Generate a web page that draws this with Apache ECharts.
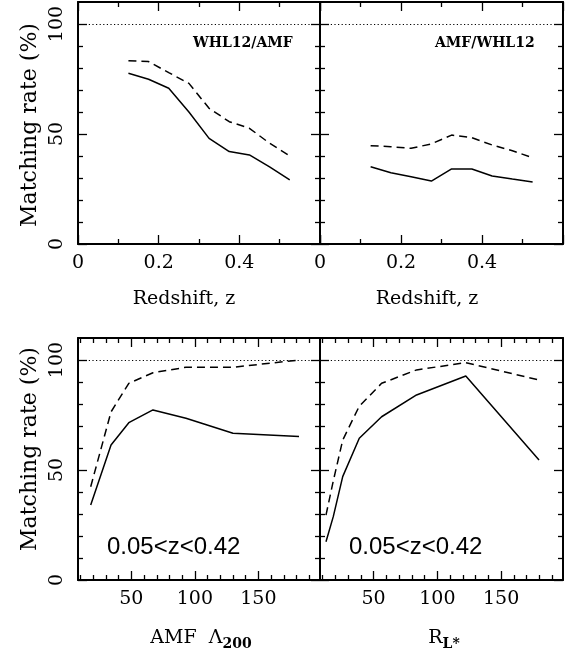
<!DOCTYPE html>
<html>
<head>
<meta charset="utf-8">
<script src="https://cdn.jsdelivr.net/npm/echarts@6/dist/echarts.min.js"></script>
<style>html,body{margin:0;padding:0;background:#fff;}#c{width:572px;height:664px;}</style>
</head>
<body>
<div id="c"></div>
<script>
// ---- data ----
const zBins = [0.125, 0.175, 0.225, 0.275, 0.325, 0.375, 0.425, 0.475, 0.525];
const whlAmfSolid = [77.6, 74.9, 70.8, 60.0, 48.0, 42.0, 40.5, 35.1, 29.1];
const whlAmfDashed = [83.3, 82.9, 77.9, 73.0, 61.7, 55.6, 52.6, 45.8, 40.0];
const amfWhlSolid = [35.1, 32.4, 30.6, 28.6, 34.1, 34.1, 30.9, 29.5, 28.2];
const amfWhlDashed = [44.7, 44.2, 43.5, 45.5, 49.5, 48.3, 45.0, 42.4, 39.2];
const lambdaBins = [18, 34, 48, 67, 93, 130, 182];
const lambdaSolid = [34.1, 61.4, 71.5, 77.3, 73.5, 66.7, 65.2];
const lambdaDashed = [42.4, 76.4, 89.4, 94.2, 96.7, 96.7, 100.0];
const rlBins = [12.7, 18.4, 25.8, 38.8, 56.3, 83.7, 122.3, 179.7];
const rlSolid = [17.4, 28.8, 47.0, 64.4, 74.2, 84.1, 92.7, 54.5];
const rlDashed = [29.5, 45.0, 63.6, 79.0, 89.4, 95.5, 98.8, 90.9];

const zMajor = [0, 0.2, 0.4, 0.6];
const zMinor = [0.1, 0.3, 0.5];
const zLabels = [0, 0.2, 0.4];
const nMajor = [50, 100, 150];
const nMinor = [10, 20, 30, 40, 60, 70, 80, 90, 110, 120, 130, 140, 160, 170, 180, 190];
const nLabels = [50, 100, 150];
const yMajor = [0, 50, 100];
const yMinor = [10, 20, 30, 40, 60, 70, 80, 90];
const yLabels = [0, 50, 100];

const SERIF = 'DejaVu Serif';
const tickFont = {color: '#000', fontFamily: SERIF, fontSize: 19};

function axisSet(kind, gridIndex, min, max, major, minor, labels, labelRotate) {
  const posA = kind === 'x' ? 'bottom' : 'left';
  const posB = kind === 'x' ? 'top' : 'right';
  const base = {type: 'value', gridIndex, min, max, splitLine: {show: false}, silent: true};
  const lineOn = {show: true, onZero: false, lineStyle: {color: '#000', width: 2}};
  const lineOff = {show: false, onZero: false};
  const tk = (vals, len) => ({show: true, inside: true, length: len, customValues: vals, lineStyle: {color: '#000', width: 1.3}});
  const lab = labels && labels.length
    ? Object.assign({show: true, customValues: labels, margin: kind === 'x' ? 10 : 11, rotate: labelRotate || 0}, tickFont)
    : {show: false};
  return [
    Object.assign({}, base, {position: posA, axisLine: lineOn, axisTick: tk(major, 9), axisLabel: lab}),
    Object.assign({}, base, {position: posA, axisLine: lineOff, axisTick: tk(minor, 5), axisLabel: {show: false}}),
    Object.assign({}, base, {position: posB, axisLine: lineOn, axisTick: tk(major, 9), axisLabel: {show: false}}),
    Object.assign({}, base, {position: posB, axisLine: lineOff, axisTick: tk(minor, 5), axisLabel: {show: false}})
  ];
}

const grids = [
  {left: 78, top: 2, width: 242, height: 242},
  {left: 320, top: 2, width: 243, height: 242},
  {left: 78, top: 338, width: 242, height: 242},
  {left: 320, top: 338, width: 243, height: 242}
].map(g => Object.assign({outerBoundsMode: 'none', containLabel: false}, g));

const xAxes = [].concat(
  axisSet('x', 0, 0, 0.6, zMajor, zMinor, zLabels),
  axisSet('x', 1, 0, 0.6, zMajor, zMinor, zLabels),
  axisSet('x', 2, 8, 198.5, nMajor, nMinor, nLabels),
  axisSet('x', 3, 8, 198.5, nMajor, nMinor, nLabels)
);
const yAxes = [].concat(
  axisSet('y', 0, 0, 110, yMajor, yMinor, yLabels, 90),
  axisSet('y', 1, 0, 110, yMajor, yMinor, null),
  axisSet('y', 2, 0, 110, yMajor, yMinor, yLabels, 90),
  axisSet('y', 3, 0, 110, yMajor, yMinor, null)
);

function pairs(xs, ys) { return xs.map((x, i) => [x, ys[i]]); }

function lineSeries(g, xs, ys, dashed, withRef) {
  const s = {
    type: 'line', xAxisIndex: 4 * g, yAxisIndex: 4 * g,
    data: pairs(xs, ys), symbol: 'none', showSymbol: false, silent: true,
    lineStyle: {color: '#000', width: 1.5, type: dashed ? [8, 5] : 'solid'}
  };
  if (withRef) {
    s.markLine = {
      silent: true, symbol: 'none', label: {show: false},
      lineStyle: {color: '#000', width: 1.2, type: [1.2, 2.4]},
      data: [{yAxis: 100}]
    };
  }
  return s;
}

const series = [
  lineSeries(0, zBins, whlAmfSolid, false, true),
  lineSeries(0, zBins, whlAmfDashed, true, false),
  lineSeries(1, zBins, amfWhlSolid, false, true),
  lineSeries(1, zBins, amfWhlDashed, true, false),
  lineSeries(2, lambdaBins, lambdaSolid, false, true),
  lineSeries(2, lambdaBins, lambdaDashed, true, false),
  lineSeries(3, rlBins, rlSolid, false, true),
  lineSeries(3, rlBins, rlDashed, true, false)
];

function txt(x, y, text, opts) {
  return Object.assign({type: 'text', x, y, silent: true,
    style: Object.assign({text, fill: '#000', fontFamily: SERIF, fontSize: 19, align: 'center', verticalAlign: 'middle'}, opts && opts.style)},
    opts && opts.el);
}

const graphic = [
  txt(30, 125, 'Matching rate (%)', {style: {fontSize: 22}, el: {rotation: Math.PI / 2}}),
  txt(30, 449, 'Matching rate (%)', {style: {fontSize: 22}, el: {rotation: Math.PI / 2}}),
  txt(184, 299, 'Redshift, z'),
  txt(427, 299, 'Redshift, z'),
  txt(193, 43, 'WHL12/AMF', {style: {fontSize: 14, fontWeight: 'bold', align: 'left'}}),
  txt(435, 43, 'AMF/WHL12', {style: {fontSize: 14, fontWeight: 'bold', align: 'left'}}),
  txt(107, 547, '0.05<z<0.42', {style: {fontFamily: 'Liberation Sans', fontSize: 24, align: 'left'}}),
  txt(349, 547, '0.05<z<0.42', {style: {fontFamily: 'Liberation Sans', fontSize: 24, align: 'left'}}),
  txt(201, 640, '{a|AMF  Λ}{s|200}', {style: {rich: {
    a: {fontFamily: SERIF, fontSize: 19, verticalAlign: 'top', lineHeight: 22, padding: [0, 0, 5, 0]},
    s: {fontFamily: SERIF, fontSize: 14, fontWeight: 'bold', verticalAlign: 'bottom', lineHeight: 14}
  }}}),
  txt(444, 640, '{a|R}{s|L*}', {style: {rich: {
    a: {fontFamily: SERIF, fontSize: 19, verticalAlign: 'top', lineHeight: 22, padding: [0, 0, 5, 0]},
    s: {fontFamily: SERIF, fontSize: 14, fontWeight: 'bold', verticalAlign: 'bottom', lineHeight: 14}
  }}})
];

const chart = echarts.init(document.getElementById('c'), null, {renderer: 'canvas'});
chart.setOption({
  animation: false,
  backgroundColor: '#fff',
  grid: grids,
  xAxis: xAxes,
  yAxis: yAxes,
  series,
  graphic
});
</script>
</body>
</html>
